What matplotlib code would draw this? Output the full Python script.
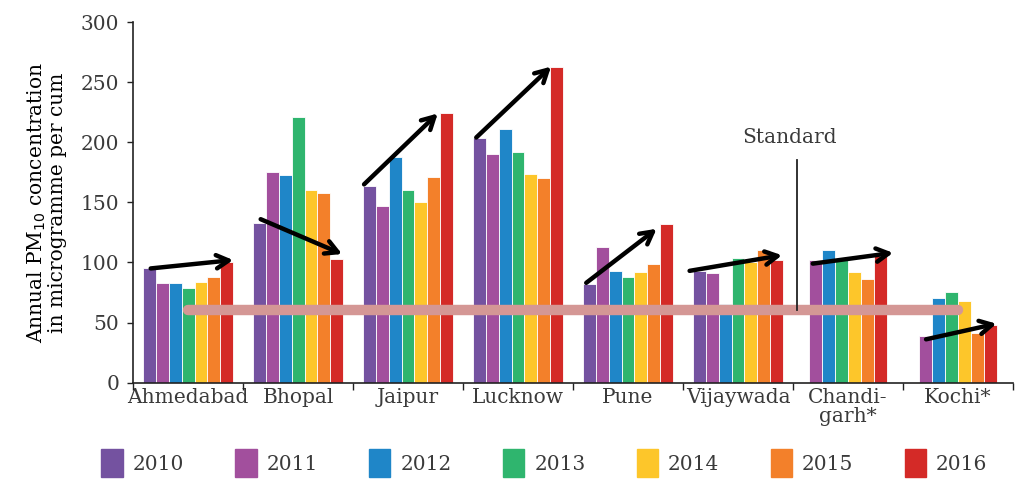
import numpy as np
import matplotlib
matplotlib.use("Agg")
import matplotlib.pyplot as plt
from matplotlib.patches import FancyArrowPatch

plt.rcParams['font.family'] = ['DejaVu Serif']
plt.rcParams['text.color'] = '#3a3a3a'
plt.rcParams['xtick.color'] = '#222222'
plt.rcParams['ytick.color'] = '#222222'
plt.rcParams['xtick.labelcolor'] = '#3a3a3a'
plt.rcParams['ytick.labelcolor'] = '#3a3a3a'

# data
cities = ['Ahmedabad', 'Bhopal', 'Jaipur', 'Lucknow', 'Pune', 'Vijaywada',
          'Chandi-\ngarh*', 'Kochi*']
years = ['2010', '2011', '2012', '2013', '2014', '2015', '2016']
colors = ['#7452a0', '#a24f9d', '#1f86c8', '#2fb56e', '#fdc62a', '#f3802a', '#d42a27']

y2010 = [95, 133, 164, 204, 82, 93, None, None]
y2011 = [83, 175, 147, 190, 113, 91, 102, 39]
y2012 = [83, 173, 188, 211, 93, 65, 110, 70]
y2013 = [79, 221, 160, 192, 88, 104, 102, 75]
y2014 = [84, 160, 150, 174, 92, 100, 92, 68]
y2015 = [88, 158, 171, 170, 99, 110, 86, 41]
y2016 = [100, 103, 224, 263, 132, 102, 105, 48]
series = [y2010, y2011, y2012, y2013, y2014, y2015, y2016]

standard = 60

# trend arrows per city: (x0, y0) -> (x1, y1) in data units
arrow_x0 = [-0.34, 0.66, 1.60, 2.62, 3.62, 4.56, 5.68, 6.71]
arrow_y0 = [95, 136, 165, 204, 83, 93, 99, 36]
arrow_x1 = [0.41, 1.40, 2.27, 3.30, 4.26, 5.40, 6.41, 7.35]
arrow_y1 = [102, 107, 224, 263, 128, 106, 108, 49]

fig = plt.figure(figsize=(10.16, 4.93), dpi=100)
ax = fig.add_axes([0.131, 0.224, 0.866, 0.731])

w = 0.117
for c in range(len(cities)):
    present = [i for i in range(len(years)) if series[i][c] is not None]
    n = len(present)
    for k, i in enumerate(present):
        ax.bar(c + (k - (n - 1) / 2) * w, series[i][c], width=w, color=colors[i],
               edgecolor='white', linewidth=0.6, zorder=2)

# standard line
ax.plot([0, 7], [standard, standard], color='#d49795', lw=7.5,
        solid_capstyle='round', zorder=3)
ax.plot([5.536, 5.536], [standard, 185], color='#222222', lw=1.3, zorder=4)
ax.text(5.47, 196, 'Standard', ha='center', va='bottom', fontsize=14.5)

for x0, y0, x1, y1 in zip(arrow_x0, arrow_y0, arrow_x1, arrow_y1):
    ax.add_patch(FancyArrowPatch((x0, y0), (x1, y1), arrowstyle='->,head_length=0.55,head_width=0.3',
                                 color='black', lw=3.2, mutation_scale=16,
                                 shrinkA=0, shrinkB=0, zorder=5))

ax.set_xlim(-0.5, 7.5)
ax.set_ylim(0, 300)
ax.set_yticks(np.arange(0, 301, 50))
ax.set_xticks(np.arange(len(cities)))
ax.set_xticklabels(cities, fontsize=14.5, linespacing=1.0)
ax.set_xticks(np.arange(-0.5, 8, 1), minor=True)
ax.tick_params(axis='x', which='major', length=0, pad=4)
ax.tick_params(axis='x', which='minor', length=5, width=1, direction='out')
ax.tick_params(axis='y', length=4, width=1, labelsize=14.5, pad=6)
for s in ['top', 'right']:
    ax.spines[s].set_visible(False)
for s in ['left', 'bottom']:
    ax.spines[s].set_linewidth(1.2)
    ax.spines[s].set_color('#222222')

ax.set_ylabel('Annual PM$_{10}$ concentration\nin microgramme per cum', fontsize=14.5,
              linespacing=1.0, labelpad=10)

handles = [plt.Rectangle((0, 0), 1, 1, color=col) for col in colors]
fig.legend(handles, years, loc='lower left', bbox_to_anchor=(0.082, -0.005), ncol=7,
           frameon=False, fontsize=14.5, handlelength=1.05, handleheight=1.8,
           handletextpad=0.5, columnspacing=2.55)

fig.savefig('out.png', dpi=100)
